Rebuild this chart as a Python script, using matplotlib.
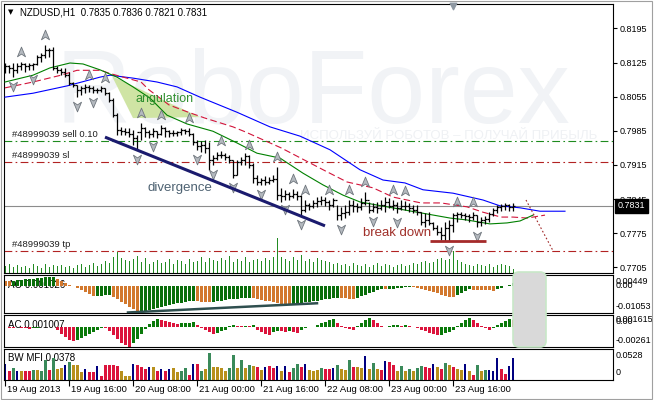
import numpy as np
import matplotlib
matplotlib.use('Agg')
import matplotlib.pyplot as plt
from matplotlib.path import Path
from matplotlib.patches import Polygon, FancyBboxPatch, Rectangle
from matplotlib.transforms import blended_transform_factory, IdentityTransform

plt.rcParams['font.family'] = ['Liberation Sans', 'DejaVu Sans']

W, H = 654, 400

symbol = 'NZDUSD,H1'
last_ohlc = '0.7835 0.7836 0.7821 0.7831'

# H1 bars, 19-23 Aug 2013
high = [.8124, .8120, .8124, .8124, .8126, .8124, .8124, .8124, .8140, .8144,
        .8161, .8155, .8157, .8118, .8114, .8114, .8105, .8085, .8079, .8077,
        .8081, .8079, .8077, .8073, .8077, .8073, .8064, .8052, .8021, .7993,
        .7991, .7991, .7987, .7976, .8001, .7993, .7987, .7991, .7984, .7997,
        .7993, .7987, .7987, .7984, .7991, .7989, .7991, .7980, .7966, .7964,
        .7966, .7962, .7935, .7941, .7943, .7939, .7935, .7925, .7925, .7931,
        .7939, .7935, .7919, .7894, .7888, .7892, .7890, .7894, .7911, .7868,
        .7864, .7859, .7866, .7861, .7853, .7843, .7837, .7843, .7849, .7851,
        .7849, .7843, .7847, .7833, .7829, .7833, .7843, .7843, .7837, .7847,
        .7859, .7839, .7837, .7839, .7843, .7849, .7847, .7843, .7839, .7843,
        .7841, .7837, .7833, .7833, .7818, .7816, .7818, .7798, .7792, .7788,
        .7798, .7802, .7816, .7818, .7818, .7816, .7814, .7818, .7812, .7808,
        .7810, .7818, .7827, .7833, .7835, .7837, .7835, .7836]
low = [.8103, .8103, .8095, .8103, .8110, .8105, .8110, .8110, .8120, .8126,
       .8134, .8136, .8110, .8103, .8099, .8095, .8079, .8075, .8054, .8058,
       .8062, .8064, .8062, .8062, .8064, .8058, .8044, .8013, .7976, .7976,
       .7976, .7972, .7956, .7946, .7966, .7972, .7970, .7972, .7970, .7976,
       .7972, .7972, .7974, .7974, .7976, .7978, .7974, .7956, .7946, .7941,
       .7939, .7905, .7915, .7925, .7929, .7925, .7919, .7888, .7894, .7915,
       .7915, .7909, .7878, .7874, .7874, .7874, .7876, .7880, .7843, .7839,
       .7843, .7843, .7847, .7843, .7812, .7818, .7823, .7827, .7829, .7833,
       .7831, .7823, .7829, .7802, .7802, .7806, .7812, .7818, .7818, .7823,
       .7833, .7816, .7818, .7816, .7823, .7818, .7827, .7823, .7816, .7823,
       .7823, .7818, .7816, .7812, .7792, .7788, .7792, .7782, .7771, .7761,
       .7759, .7759, .7777, .7798, .7806, .7802, .7798, .7802, .7788, .7790,
       .7794, .7798, .7810, .7816, .7820, .7823, .7820, .7821]
close = [.8118, .8114, .8110, .8118, .8122, .8118, .8120, .8122, .8136, .8140,
         .8151, .8151, .8114, .8110, .8105, .8099, .8083, .8079, .8069, .8073,
         .8075, .8073, .8069, .8069, .8073, .8062, .8048, .8017, .7987, .7984,
         .7982, .7978, .7970, .7982, .7991, .7982, .7978, .7984, .7978, .7991,
         .7984, .7980, .7980, .7982, .7987, .7984, .7978, .7962, .7954, .7956,
         .7950, .7925, .7929, .7935, .7935, .7931, .7925, .7894, .7921, .7925,
         .7933, .7915, .7888, .7880, .7884, .7880, .7884, .7886, .7853, .7851,
         .7855, .7851, .7855, .7851, .7823, .7833, .7831, .7837, .7841, .7843,
         .7839, .7833, .7843, .7812, .7816, .7818, .7833, .7831, .7829, .7837,
         .7843, .7823, .7829, .7827, .7833, .7839, .7831, .7833, .7827, .7831,
         .7831, .7827, .7823, .7818, .7798, .7802, .7796, .7786, .7777, .7771,
         .7786, .7792, .7812, .7814, .7812, .7810, .7808, .7812, .7798, .7802,
         .7804, .7814, .7823, .7829, .7831, .7833, .7829, .7831]
volume = [700, 900, 600, 800, 600, 700, 500, 900, 700, 500,
          900, 600, 800, 700, 800, 600, 700, 500, 800, 900,
          600, 800, 1000, 700, 900, 1200, 1000, 1600, 2100, 1500,
          1300, 1200, 1400, 1700, 1100, 1500, 900, 1100, 1300, 1000,
          1100, 1400, 900, 1300, 1200, 900, 1400, 1100, 1200, 1600,
          1100, 1500, 1300, 1200, 1500, 1300, 1700, 1100, 1400, 1200,
          1600, 1100, 1300, 1400, 1200, 1500, 1300, 1600, 3500, 1600,
          1400, 1200, 1600, 1300, 1800, 1200, 1400, 1100, 1500, 1300,
          1200, 1100, 900, 1000, 800, 900, 700, 1000, 800, 700,
          900, 600, 800, 1000, 700, 900, 800, 600, 800, 900,
          700, 800, 1000, 900, 1100, 1200, 1000, 1100, 1400, 1500,
          1300, 1400, 2200, 1300, 1100, 900, 800, 700, 900, 800,
          700, 900, 600, 800, 900, 800, 700, 400]

# moving averages (bar index, price)
jaw_idx = [0, 7, 15.5, 23.75, 26.25, 32, 38, 43, 48.75, 58, 66.25, 73.75,
           81.25, 88.75, 94.5, 100, 104.5, 112, 119.5, 123.75, 128.75, 133.75, 140]
jaw_val = [.8054, .8062, .8077, .8095, .8099, .8093, .8085, .8075, .8054, .8023, .7993, .7974,
           .7946, .7905, .7884, .7878, .7864, .7857, .7843, .7831, .7827, .7820, .7820]
teeth_idx = [0, 7, 14, 18, 24, 26, 34, 36, 41, 45.5, 50, 57, 60, 69, 80,
             85.5, 92, 97, 104, 109, 115.5, 119.5, 124, 127, 130.5, 135]
teeth_val = [.8073, .8085, .8099, .8109, .8109, .8103, .8085, .8069, .8038, .8024, .8011, .7993, .7983, .7950, .7903,
             .7880, .7868, .7849, .7837, .7837, .7829, .7818, .7808, .7808, .7806, .7812]
lips_idx = [0, 7, 11.25, 16.25, 19.5, 23.75, 28, 32, 36.25, 40.5, 45.5, 52, 58, 63,
            68.75, 74.5, 79.5, 84.5, 88.75, 95.5, 103, 111.25, 115.5, 121.25, 125.5, 128.75, 132]
lips_val = [.8085, .8099, .8114, .8124, .8122, .8110, .8095, .8075, .8052, .8017, .7999, .7984, .7960, .7939,
            .7929, .7898, .7874, .7853, .7839, .7829, .7818, .7806, .7802, .7794, .7796, .7800, .7812]

fractal_up = [4, 10, 21, 25, 34, 39, 46, 54, 61, 68, 72, 75, 81, 86, 90, 97, 100, 113, 117]
fractal_down = [2, 7, 18, 22, 33, 37, 48, 52, 57, 64, 70, 74, 84, 92, 98, 111, 118]

order_label = '#48999039'
order_sell = 0.7964
order_sl = 0.7920
order_tp = 0.7738

angle_zone = [(26.75, .8097), (48.75, .8013), (32.0, .8011)]
divergence_line = [(25, .7972), (80, .7790)]
breakdown_line = [(106.25, .7758), (120.25, .7758)]
projection_line = [(130.25, .7843), (137, .7739)]
ao_divergence = [(30.75, -0.01044), (78, -0.00682)]

# Awesome oscillator
ao = [.00197, .00177, .00197, .00216, .00236, .00255, .00275, .00287, .00307, .00322,
      .00334, .00342, .00346, .00255, .00177, .00098, .00039, -.00020, -.00079, -.00157,
      -.00236, -.00314, -.00393, -.00385, -.00377, -.00369, -.00365, -.00432, -.00531, -.00629,
      -.00727, -.00825, -.00924, -.01041, -.01022, -.00983, -.00943, -.00904, -.00865, -.00825,
      -.00786, -.00747, -.00715, -.00684, -.00652, -.00625, -.00597, -.00574, -.00590, -.00613,
      -.00629, -.00645, -.00621, -.00597, -.00574, -.00550, -.00531, -.00511, -.00495, -.00479,
      -.00472, -.00464, -.00483, -.00511, -.00542, -.00574, -.00605, -.00637, -.00668, -.00700,
      -.00727, -.00747, -.00719, -.00692, -.00668, -.00645, -.00621, -.00597, -.00574, -.00550,
      -.00523, -.00495, -.00472, -.00456, -.00472, -.00487, -.00503, -.00511, -.00472, -.00413,
      -.00354, -.00295, -.00236, -.00177, -.00118, -.00130, -.00118, -.00102, -.00086, -.00071,
      -.00059, -.00047, -.00059, -.00086, -.00118, -.00157, -.00197, -.00244, -.00291, -.00338,
      -.00385, -.00424, -.00432, -.00373, -.00295, -.00216, -.00138, -.00149, -.00157, -.00165,
      -.00173, -.00177, -.00181, -.00118, -.00063, -.00012, .00047, .001026]

# Accelerator oscillator
ac = [.00007, -.00004, -.00007, .00004, -.00008, -.00013, -.00017, -.00011, -.00005, .00004,
      .00011, .00007, .00003, -.00040, -.00086, -.00132, -.00165, -.00185, -.00165, -.00139,
      -.00112, -.00086, -.00059, -.00033, -.00011, -.00013, -.00053, -.00106, -.00158, -.00205,
      -.00238, -.00257, -.00211, -.00152, -.00092, -.00026, .00040, .00086, .00110, .00092,
      .00082, .00071, .00061, .00050, .00055, .00061, .00065, .00067, .00026, -.00001,
      -.00040, -.00066, -.00092, -.00073, -.00053, -.00033, .00020, .00033, .00020, .00013,
      .00024, .00017, .00026, -.00033, -.00059, -.00086, -.00099, -.00066, -.00046, -.00053,
      -.00059, -.00053, -.00066, -.00079, -.00040, -.00013, .00007, .00004, .00026, .00053,
      .00073, .00092, .00106, .00053, .00013, -.00007, -.00020, -.00033, .00013, .00053,
      .00092, .00119, .00092, .00053, .00020, .00007, .00020, .00029, .00033, .00024,
      .00034, .00020, .00007, -.00007, -.00033, -.00053, -.00073, -.00086, -.00099, -.00095,
      -.00079, -.00059, -.00033, .00013, .00059, .00099, .00119, .00092, .00059, .00020,
      -.00013, -.00033, -.00013, .00026, .00053, .00079, .00106, .001007]

# Bill Williams market facilitation index
mfi = [.0274, .0154, .0206, .0154, .0154, .0154, .0154, .0171, .0171, .0154,
       .0343, .0171, .0377, .0189, .0206, .0257, .0309, .0257, .0257, .0137,
       .0189, .0137, .0137, .0240, .0077, .0257, .0257, .0257, .0240, .0154,
       .0077, .0077, .0274, .0257, .0223, .0189, .0223, .0223, .0154, .0189,
       .0154, .0189, .0206, .0137, .0154, .0206, .0086, .0274, .0274, .0154,
       .0189, .0471, .0223, .0223, .0206, .0154, .0206, .0429, .0206, .0343,
       .0206, .0257, .0240, .0223, .0171, .0223, .0240, .0206, .0240, .0154,
       .0240, .0137, .0206, .0274, .0223, .0274, .0171, .0154, .0171, .0206,
       .0189, .0189, .0206, .0257, .0189, .0180, .0343, .0223, .0223, .0206,
       .0411, .0189, .0291, .0189, .0171, .0326, .0317, .0257, .0154, .0240,
       .0154, .0189, .0146, .0206, .0240, .0223, .0206, .0274, .0223, .0189,
       .0291, .0257, .0223, .0189, .0171, .0274, .0154, .0086, .0257, .0154,
       .0171, .0171, .0154, .0377, .0189, .0103, .0240, .0378]
# g = green, s = squat, f = fake, r = fade
mfi_zone = ('frgfsrrgsg' 'grgssfgsss' 'frrfrrrrrs' 'ssfrrrfsrf' 'rfssggrfrg' 'sgssssggsg'
            'sgsrsfrrfs' 'frggrfsssg' 'rrfgssgrss' 'fsgsrfrrsg' 'sgsggrrfsr' 'gsrssfsrgs' 'gfffrrff')

price_ticks = [0.8195, 0.8125, 0.8055, 0.7985, 0.7915, 0.7845, 0.7775, 0.7705]
time_ticks = [0, 16, 32, 48, 64, 80, 96, 112]
time_labels = ['19 Aug 2013', '19 Aug 16:00', '20 Aug 08:00', '21 Aug 00:00',
               '21 Aug 16:00', '22 Aug 08:00', '23 Aug 00:00', '23 Aug 16:00']

ao_range = (-0.01053, 0.00449)
ac_range = (-0.00261, 0.001615)
mfi_range = (0, 0.0528)

fig = plt.figure(figsize=(W / 100, H / 100), dpi=100)
fig.patch.set_facecolor('white')


def fx(x):
    return x / W


def fy(y):
    return 1 - y / H


def panel(x0, y0, x1, y1):
    ax = fig.add_axes([fx(x0), fy(y1), (x1 - x0) / W, (y1 - y0) / H])
    ax.set_xlim(-0.25, 152)
    ax.set_xticks([])
    ax.set_yticks([])
    for s in ax.spines.values():
        s.set_linewidth(0.8)
        s.set_color('black')
    return ax


idx = np.arange(len(close))
close_a = np.array(close)
opn = np.r_[close_a[0], close_a[:-1]]

# ---------------- main chart ----------------
ax = panel(4, 4, 613, 273)
ax.set_ylim(0.76933, 0.8245)
ymin, ymax = ax.get_ylim()
pix = (ymax - ymin) / 269.0

ax.text(fx(55), fy(122), 'RoboForex', transform=fig.transFigure, fontsize=75,
        color='#f1f3f6', zorder=0)
ax.text(fx(300), fy(139), 'ИСПОЛЬЗУЙ РОБОТОВ – ПОЛУЧАЙ ПРИБЫЛЬ', transform=fig.transFigure,
        fontsize=9.5, color='#eff1f4', zorder=0)

vol = np.array(volume, dtype=float)
ax.vlines(idx, ymin, ymin + vol / vol.max() * 35 * pix, color='#228b22', lw=0.5,
          antialiased=False, zorder=2)

ax.add_patch(Polygon(angle_zone, closed=True, fc='#cfe4a4', ec='none', zorder=1.5))

ax.axhline(order_sell, color='#1e8b1e', lw=0.8, dashes=(7, 3, 1.5, 3), zorder=1)
ax.axhline(order_sl, color='#b22222', lw=0.8, dashes=(7, 3, 1.5, 3), zorder=1)
ax.axhline(order_tp, color='#b22222', lw=0.8, dashes=(7, 3, 1.5, 3), zorder=1)
ax.axhline(close[-1], color='#8c8c8c', lw=0.8, zorder=1)
for lbl, lvl in [(order_label + ' sell 0.10', order_sell), (order_label + ' sl', order_sl),
                 (order_label + ' tp', order_tp)]:
    ax.annotate(lbl, xy=(0.013, lvl), xycoords=('axes fraction', 'data'), xytext=(0, 2),
                textcoords='offset pixels', fontsize=6.8, color='#202020', va='bottom')

ax.plot(jaw_idx, jaw_val, color='#0000ff', lw=0.8, zorder=3)
ax.plot(teeth_idx, teeth_val, color='#d2143a', lw=0.8, dashes=(6, 3), zorder=3)
ax.plot(lips_idx, lips_val, color='#008000', lw=0.8, zorder=3)

ax.vlines(idx, low, high, color='black', lw=0.9, zorder=4)
ax.hlines(opn, idx - 0.5, idx, color='black', lw=0.9, zorder=4)
ax.hlines(close_a, idx, idx + 0.5, color='black', lw=0.9, zorder=4)

arrow = Path([(0, 1), (0.75, -0.8), (0, -0.3), (-0.75, -0.8), (0, 1)],
             [Path.MOVETO, Path.LINETO, Path.LINETO, Path.LINETO, Path.CLOSEPOLY])
arrow_dn = Path(arrow.vertices * [1, -1], arrow.codes)
hi_a, lo_a = np.array(high), np.array(low)
ax.scatter(fractal_up, hi_a[fractal_up] + 10 * pix, marker=arrow, s=60, c='#b4b9bf',
           edgecolors='#6f767d', linewidths=0.6, zorder=5)
ax.scatter(fractal_down, lo_a[fractal_down] - 9 * pix, marker=arrow_dn, s=60, c='#b4b9bf',
           edgecolors='#6f767d', linewidths=0.6, zorder=5)
ax.scatter([112], [ymax - 2 * pix], marker='v', s=22, c='#8e98a2', zorder=5, clip_on=False)

ax.plot(*zip(*divergence_line), color='#1b1b6e', lw=2.2, solid_capstyle='butt', zorder=6)
ax.plot(*zip(*breakdown_line), color='#a52a2a', lw=2.0, solid_capstyle='butt', zorder=6)
ax.plot(*zip(*projection_line), color='#a02828', lw=0.8, ls=(0, (1.5, 2)), zorder=6)

ax.text(40, .8050, 'angulation', color='#2f8f2f', fontsize=9, ha='center', va='center', zorder=7)
ax.text(43.75, .7868, 'divergence', color='#4e6272', fontsize=9.5, ha='center', va='center', zorder=7)
ax.text(98, .7775, 'break down', color='#a0302a', fontsize=9.5, ha='center', va='center', zorder=7)

ax.yaxis.tick_right()
ax.set_yticks(price_ticks)
ax.set_yticklabels([f'{v:.4f}' for v in price_ticks])
ax.tick_params(axis='y', length=3, width=0.8, pad=2, labelsize=6.5, direction='out')
trans = blended_transform_factory(fig.transFigure, ax.transData)
ax.text(fx(618), close[-1], f'{close[-1]:.4f}', transform=trans, color='white', fontsize=6.5,
        va='center', ha='left', zorder=10, clip_on=False,
        bbox=dict(boxstyle='square,pad=0.3', fc='black', ec='black'))

fig.text(fx(8), fy(12.5), '▼', fontsize=5, family='DejaVu Sans', va='center')
fig.text(fx(20), fy(12.5), f'{symbol}  {last_ohlc}', fontsize=7, va='center')

# ---------------- AO ----------------
ax_ao = panel(4, 274.5, 613, 312.7)
ax_ao.set_ylim(*ao_range)
ao_a = np.array(ao)
ao_up = np.r_[False, ao_a[1:] > ao_a[:-1]]
ax_ao.text(fx(8), fy(285), f'AO {ao[-1]:.6f}', transform=fig.transFigure, fontsize=7, zorder=1,
           va='center')
ax_ao.bar(idx, ao_a, width=0.75, color=np.where(ao_up, '#0a6e0a', '#d2782d'), lw=0, zorder=2)
ax_ao.plot(*zip(*ao_divergence), color='#2f4f4f', lw=1.8, zorder=3)

# ---------------- AC ----------------
ax_ac = panel(4, 315.2, 613, 347.2)
ax_ac.set_ylim(*ac_range)
ac_a = np.array(ac)
ac_up = np.r_[False, ac_a[1:] > ac_a[:-1]]
ax_ac.text(fx(8), fy(325), f'AC {ac[-1]:.6f}', transform=fig.transFigure, fontsize=7, zorder=1,
           va='center')
ax_ac.bar(idx, ac_a, width=0.75, color=np.where(ac_up, '#0a7a0a', '#dc143c'), lw=0, zorder=2)

# ---------------- BW MFI ----------------
ax_mfi = panel(4, 349.2, 613, 380)
ax_mfi.set_ylim(*mfi_range)
zone_colors = {'g': '#3a8a5a', 's': '#b8901c', 'f': '#000080', 'r': '#dc143c'}
ax_mfi.text(fx(8), fy(358), f'BW MFI {mfi[-1]:.4f}', transform=fig.transFigure, fontsize=7,
            zorder=1, va='center')
ax_mfi.bar(idx, mfi, width=[0.3 if z == 'f' else 0.75 for z in mfi_zone],
           color=[zone_colors[z] for z in mfi_zone], lw=0, zorder=2)
ax_mfi.set_xticks(time_ticks)
ax_mfi.tick_params(axis='x', length=4, width=0.8, direction='out', labelbottom=False)
for t, lbl in zip(time_ticks, time_labels):
    ax_mfi.annotate(lbl, xy=(t, 0), xycoords=('data', 'axes fraction'), xytext=(2, -9),
                    textcoords='offset pixels', fontsize=6.8, ha='left', va='center')

# right side labels of the indicator panels
side_labels = [('0.00449', 281.7), ('0.00', 285.3), ('-0.01053', 306.7),
               ('0.001615', 319.5), ('0.00', 322.0), ('-0.00261', 340.7),
               ('0.0528', 356.0), ('0', 372.7)]
for txt, y in side_labels:
    fig.text(fx(616), fy(y), txt, fontsize=6.5, va='center', ha='left')

fig.add_artist(FancyBboxPatch((513, H - 347), 33, 75, boxstyle='round,pad=0,rounding_size=6',
                              transform=IdentityTransform(), fc='#d9d9d9', ec='#c8e8c8',
                              lw=1.2, zorder=10))
fig.add_artist(Rectangle((1, 1.5), 651, 397.5, transform=IdentityTransform(), fill=False,
                         ec='#a0a0a0', lw=0.8, zorder=11))

fig.savefig('out.png', dpi=100)
